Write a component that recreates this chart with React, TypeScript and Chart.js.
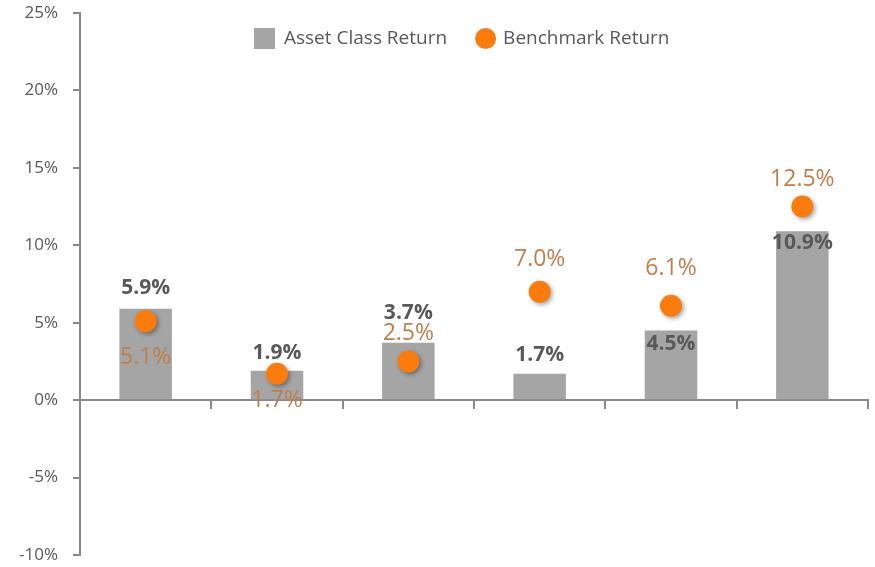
import React, { useEffect, useRef } from 'react';
import { Chart, registerables } from 'chart.js';

Chart.register(...registerables);

// ---- data ----
const categories = ['Class 1', 'Class 2', 'Class 3', 'Class 4', 'Class 5', 'Class 6'];
const assetReturns = [5.9, 1.9, 3.7, 1.7, 4.5, 10.9];
const benchmarkReturns = [5.1, 1.7, 2.5, 7.0, 6.1, 12.5];
const seriesNames = ['Asset Class Return', 'Benchmark Return'];
const yMin = -10;
const yMax = 25;
const yStep = 5;

// ---- style ----
const FONT = "'Open Sans', 'Noto Sans', sans-serif";
const BAR_COLOR = '#A5A5A5';
const POINT_COLOR = '#FA7C0E';
const AXIS_COLOR = '#898989';
const TEXT_COLOR = '#595959';
const POINT_LABEL_COLOR = '#BF7E4C';
const barLabelOffsets = [-21, -18, -30, -19, 14, 12];
const pointLabelOffsets = [36, 27, -28, -32, -37, -27];

const shadowPlugin = {
  id: 'pointShadow',
  beforeDatasetDraw(chart: any, args: any) {
    if (args.meta.type === 'line') {
      const ctx = chart.ctx;
      ctx.save();
      ctx.shadowColor = 'rgba(0,0,0,0.35)';
      ctx.shadowBlur = 4;
      ctx.shadowOffsetX = 2;
      ctx.shadowOffsetY = 2;
    }
  },
  afterDatasetDraw(chart: any, args: any) {
    if (args.meta.type === 'line') chart.ctx.restore();
  },
};

const labelPlugin = {
  id: 'valueLabels',
  afterDatasetsDraw(chart: any) {
    const ctx = chart.ctx;
    ctx.save();
    ctx.textAlign = 'center';
    ctx.textBaseline = 'middle';
    chart.data.datasets.forEach((ds: any, di: number) => {
      const meta = chart.getDatasetMeta(di);
      meta.data.forEach((el: any, i: number) => {
        const v = ds.data[i] as number;
        const txt = v.toFixed(1) + '%';
        if (meta.type === 'bar') {
          ctx.font = `bold 21px ${FONT}`;
          ctx.fillStyle = TEXT_COLOR;
          ctx.fillText(txt, el.x, el.y + barLabelOffsets[i]);
        } else {
          ctx.font = `23px ${FONT}`;
          ctx.fillStyle = POINT_LABEL_COLOR;
          ctx.fillText(txt, el.x, el.y + pointLabelOffsets[i]);
        }
      });
    });
    ctx.restore();
  },
};

const legendPlugin = {
  id: 'customLegend',
  afterDraw(chart: any) {
    const ctx = chart.ctx;
    ctx.save();
    ctx.font = `19px ${FONT}`;
    ctx.textBaseline = 'middle';
    ctx.textAlign = 'left';
    const cy = 38.5;
    let x = 254;
    // bar item
    ctx.fillStyle = BAR_COLOR;
    ctx.fillRect(x, cy - 10.5, 21, 21);
    x += 21 + 9;
    ctx.fillStyle = TEXT_COLOR;
    ctx.fillText(seriesNames[0], x, cy);
    x += ctx.measureText(seriesNames[0]).width + 28;
    // point item
    ctx.fillStyle = POINT_COLOR;
    ctx.beginPath();
    ctx.arc(x + 10.5, cy, 10.5, 0, Math.PI * 2);
    ctx.fill();
    x += 21 + 7;
    ctx.fillStyle = TEXT_COLOR;
    ctx.fillText(seriesNames[1], x, cy);
    ctx.restore();
  },
};

export default function App() {
  const ref = useRef<HTMLCanvasElement>(null);

  useEffect(() => {
    if (!ref.current) return;
    const chart = new Chart(ref.current, {
      type: 'bar',
      data: {
        labels: categories,
        datasets: [
          {
            type: 'line',
            label: seriesNames[1],
            data: benchmarkReturns,
            showLine: false,
            pointRadius: 11,
            pointHoverRadius: 11,
            pointBackgroundColor: POINT_COLOR,
            pointBorderWidth: 0,
            borderColor: POINT_COLOR,
            backgroundColor: POINT_COLOR,
            order: 0,
          } as any,
          {
            type: 'bar',
            label: seriesNames[0],
            data: assetReturns,
            backgroundColor: BAR_COLOR,
            categoryPercentage: 0.8,
            barPercentage: 0.5,
            order: 1,
          },
        ],
      },
      options: {
        animation: false,
        responsive: true,
        maintainAspectRatio: false,
        layout: { autoPadding: false, padding: { top: 13, bottom: 12, left: 0, right: 7 } },
        plugins: {
          legend: { display: false },
          tooltip: { enabled: false },
        },
        scales: {
          x: {
            position: { y: 0 } as any,
            ticks: { display: false },
            grid: {
              offset: true,
              drawOnChartArea: false,
              drawTicks: true,
              tickLength: 8,
              color: AXIS_COLOR,
              lineWidth: 2,
            },
            border: { color: AXIS_COLOR, width: 2 },
            afterFit(scale: any) {
              scale.height = 0;
              scale.paddingLeft = 0;
              scale.paddingRight = 0;
            },
          },
          y: {
            min: yMin,
            max: yMax,
            ticks: {
              stepSize: yStep,
              padding: 15,
              color: TEXT_COLOR,
              font: { family: FONT, size: 17 },
              callback: (v: any) => `${v}%`,
            },
            grid: {
              drawOnChartArea: false,
              drawTicks: true,
              tickLength: 7,
              color: AXIS_COLOR,
              lineWidth: 2,
            },
            border: { color: AXIS_COLOR, width: 2 },
            afterFit(scale: any) {
              scale.width = 80;
              scale.paddingTop = 0;
              scale.paddingBottom = 0;
            },
          },
        },
      },
      plugins: [shadowPlugin, labelPlugin, legendPlugin],
    });
    return () => chart.destroy();
  }, []);

  return (
    <div style={{ position: 'absolute', left: 0, top: 0, width: 875, height: 567 }}>
      <canvas ref={ref} />
    </div>
  );
}
